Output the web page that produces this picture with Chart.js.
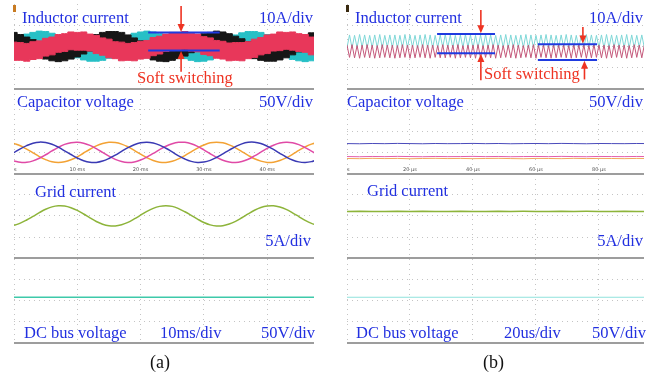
<!DOCTYPE html>
<html>
<head>
<meta charset="utf-8">
<script src="https://cdn.jsdelivr.net/npm/chart.js@4.4.1/dist/chart.umd.min.js"></script>
<style>
  body { margin: 0; background: #fff; }
  #wrap { position: relative; width: 663px; height: 380px; overflow: hidden; }
  canvas { position: absolute; top: 0; }
  .lbl { position: absolute; font-family: "Liberation Serif", "Times New Roman", serif; font-size: 16.5px; line-height: 1; color: #2230e0; white-space: nowrap; }
  .red { color: #ee3322; }
  .cap { font-size: 18px; color: #111; }
</style>
</head>
<body>
<div id="wrap">
  <canvas id="chartA" width="331" height="380" style="left:0"></canvas>
  <canvas id="chartB" width="332" height="380" style="left:331px"></canvas>

  <div class="lbl" style="left:22px;top:10px">Inductor current</div>
  <div class="lbl" style="right:350px;top:10px">10A/div</div>
  <div class="lbl red" style="left:137px;top:70px">Soft switching</div>
  <div class="lbl" style="left:17px;top:94px">Capacitor voltage</div>
  <div class="lbl" style="right:350px;top:94px">50V/div</div>
  <div class="lbl" style="left:35px;top:184px">Grid current</div>
  <div class="lbl" style="right:352px;top:233px">5A/div</div>
  <div class="lbl" style="left:24px;top:325px">DC bus voltage</div>
  <div class="lbl" style="left:160px;top:325px">10ms/div</div>
  <div class="lbl" style="right:348px;top:325px">50V/div</div>
  <div class="lbl cap" style="left:150px;top:353px">(a)</div>

  <div class="lbl" style="left:355px;top:10px">Inductor current</div>
  <div class="lbl" style="right:20px;top:10px">10A/div</div>
  <div class="lbl red" style="left:484px;top:66px">Soft switching</div>
  <div class="lbl" style="left:347px;top:94px">Capacitor voltage</div>
  <div class="lbl" style="right:20px;top:94px">50V/div</div>
  <div class="lbl" style="left:367px;top:183px">Grid current</div>
  <div class="lbl" style="right:20px;top:233px">5A/div</div>
  <div class="lbl" style="left:356px;top:325px">DC bus voltage</div>
  <div class="lbl" style="left:504px;top:325px">20us/div</div>
  <div class="lbl" style="right:17px;top:325px">50V/div</div>
  <div class="lbl cap" style="left:483px;top:353px">(b)</div>
</div>

<script>
// ---- (a) 10 ms/div, time in ms ----
const timeA = [0,1,2,3,4,5,6,7,8,9,10,11,12,13,14,15,16,17,18,19,20,21,22,23,24,25,26,27,28,29,30,31,32,33,34,35,36,37,38,39,40,41,42,43,44,45,46,47,48];

// inductor current bands (A), upper / lower edge of the ripple
const redHiA = [1.0,0.9,0.7,1.1,1.3,1.9,2.2,2.8,3.0,3.4,3.3,3.4,2.9,2.6,2.0,1.7,1.1,1.0,0.7,0.9,1.2,1.4,2.1,2.4,2.9,3.3,3.3,3.5,3.1,2.9,2.3,2.0,1.4,1.2,0.8,0.9,0.9,1.1,1.7,2.1,2.7,2.9,3.4,3.3,3.4,3.0,2.8,2.2,1.8];
const redLoA = [-3.3,-3.3,-3.5,-3.1,-2.9,-2.3,-2.0,-1.4,-1.2,-0.8,-0.9,-0.9,-1.1,-1.7,-2.1,-2.7,-2.9,-3.4,-3.3,-3.4,-3.0,-2.8,-2.2,-1.8,-1.2,-1.0,-0.9,-0.7,-1.1,-1.3,-1.9,-2.2,-2.8,-3.0,-3.4,-3.3,-3.4,-2.9,-2.6,-2.0,-1.7,-1.1,-1.0,-0.7,-0.9,-1.2,-1.4,-2.0,-2.4];
const blackHiA = [3.3,2.8,2.2,1.6,1.0,0.3,-0.1,-0.3,0.0,0.3,0.8,1.5,2.2,2.8,3.3,3.5,3.5,3.3,2.7,2.0,1.3,0.7,0.1,-0.2,-0.3,0.0,0.5,1.0,1.8,2.4,3.0,3.3,3.6,3.4,3.0,2.4,1.8,1.1,0.4,0.0,-0.3,-0.2,0.1,0.6,1.2,2.0,2.7,3.2,3.5];
const blackLoA = [0.0,-0.4,-1.0,-1.8,-2.5,-3.0,-3.4,-3.6,-3.4,-3.0,-2.5,-1.8,-1.1,-0.5,0.0,0.2,0.2,-0.1,-0.6,-1.3,-2.0,-2.7,-3.2,-3.5,-3.6,-3.3,-2.9,-2.3,-1.5,-0.9,-0.3,0.1,0.3,0.1,-0.3,-0.8,-1.5,-2.2,-2.9,-3.3,-3.5,-3.5,-3.2,-2.7,-2.0,-1.3,-0.6,-0.1,0.2];
const cyanHiA = [1.6,2.3,2.9,3.3,3.6,3.5,3.1,2.6,1.9,1.2,0.6,0.1,-0.2,-0.2,0.0,0.5,1.1,1.8,2.5,3.1,3.4,3.6,3.4,3.0,2.4,1.7,1.0,0.4,0.0,-0.3,-0.2,0.2,0.7,1.4,2.1,2.7,3.2,3.5,3.5,3.3,2.8,2.2,1.5,0.8,0.2,-0.1,-0.3,-0.1,0.3];
const cyanLoA = [-1.7,-1.0,-0.4,0.0,0.3,0.2,-0.2,-0.7,-1.4,-2.1,-2.7,-3.2,-3.5,-3.5,-3.3,-2.8,-2.2,-1.5,-0.8,-0.2,0.1,0.3,0.1,-0.3,-0.9,-1.6,-2.3,-2.9,-3.3,-3.6,-3.5,-3.2,-2.6,-1.9,-1.2,-0.6,-0.1,0.2,0.2,0.0,-0.5,-1.1,-1.8,-2.5,-3.1,-3.4,-3.6,-3.4,-3.0];

// capacitor voltages (V)
const capBlueA = [-0.4,4.1,7.9,10.7,12.0,11.5,9.5,6.1,1.8,-2.6,-6.7,-10.0,-11.8,-11.9,-10.3,-7.3,-3.4,1.2,5.5,9.0,11.3,12.0,11.0,8.5,4.8,0.4,-4.1,-7.9,-10.7,-12.0,-11.5,-9.5,-6.1,-1.8,2.6,6.7,10.0,11.8,11.9,10.3,7.3,3.4,-1.2,-5.5,-9.0,-11.3,-12.0,-11.0,-8.5];
const capPinkA = [-10.2,-11.8,-11.8,-10.1,-7.0,-2.9,1.7,5.9,9.4,11.4,12.0,10.8,8.2,4.3,-0.1,-4.6,-8.3,-10.9,-12.0,-11.4,-9.1,-5.6,-1.3,3.1,7.2,10.2,11.8,11.8,10.1,7.0,2.9,-1.7,-5.9,-9.4,-11.4,-12.0,-10.8,-8.2,-4.3,0.1,4.6,8.3,10.9,12.0,11.4,9.1,5.6,1.3,-3.1];
const capOrangeA = [10.6,7.7,3.8,-0.6,-5.0,-8.6,-11.2,-12.0,-11.2,-8.8,-5.3,-0.8,3.6,7.6,10.4,11.9,11.6,9.7,6.5,2.4,-2.2,-6.4,-9.7,-11.6,-12.0,-10.6,-7.7,-3.8,0.6,5.0,8.6,11.2,12.0,11.2,8.8,5.3,0.8,-3.6,-7.6,-10.4,-11.9,-11.6,-9.7,-6.5,-2.4,2.2,6.4,9.7,11.6];

// grid current (A)
const gridA = [-1.12,-0.86,-0.49,-0.06,0.38,0.78,1.06,1.19,1.16,0.96,0.64,0.22,-0.24,-0.66,-0.98,-1.16,-1.19,-1.04,-0.76,-0.36,0.08,0.53,0.89,1.12,1.20,1.12,0.86,0.49,0.06,-0.38,-0.78,-1.06,-1.19,-1.16,-0.96,-0.64,-0.22,0.24,0.66,0.98,1.16,1.19,1.04,0.76,0.36,-0.08,-0.53,-0.89,-1.12];

// dc bus (V)
const dcTimeA = [0, 48];
const dcA = [54, 54];

const tickPosA = [0, 10, 20, 30, 40];
const tickLabA = ["s", "10 ms", "20 ms", "30 ms", "40 ms"];

// ---- (b) 20 us/div, time in us ----
const halfPeriodB = 0.8; // sample spacing of the triangle peaks
const cyanTriB = [
  -0.3,2.7,-0.4,2.6,-0.3,2.8,-0.2,2.7,-0.4,2.6,
  -0.3,2.7,-0.3,2.8,-0.4,2.6,-0.2,2.7,-0.3,2.7,
  -0.4,2.6,-0.3,2.8,-0.3,2.7,-0.2,2.6,-0.4,2.7,
  -0.3,2.8,-0.3,2.7,-0.4,2.6,-0.3,2.7,-0.2,2.8,
  -0.3,2.7,-0.4,2.6,-0.3,2.7,-0.3,2.8,-0.2,2.7,
  -0.4,2.6,-0.3,2.7,-0.3,2.8,-0.4,2.7,-0.2,2.6,
  -0.3,2.7,-0.3,2.8,-0.4,2.7,-0.3,2.6,-0.2,2.7,
  -0.3,2.8,-0.4,2.7,-0.3,2.6,-0.3,2.7,-0.2,2.8,
  -0.4,2.7,-0.3,2.6,-0.3,2.7,-0.2,2.8,-0.4,2.7,
  -0.3,2.6,-0.3,2.7,-0.4,2.8,-0.2,2.7,-0.3,2.6,
  -0.3,2.7,-0.4,2.8,-0.3,2.7,-0.2,2.6,-0.3,2.7,
  -0.3,2.8,-0.4,2.7,-0.3,2.6,-0.2,2.7,-0.3];
const redTriB = [
  0.3,-2.6,0.4,-2.7,0.2,-2.8,0.3,-2.6,0.4,-2.7,
  0.3,-2.8,0.2,-2.7,0.4,-2.6,0.3,-2.7,0.3,-2.8,
  0.2,-2.7,0.4,-2.6,0.3,-2.8,0.3,-2.7,0.2,-2.6,
  0.4,-2.7,0.3,-2.8,0.3,-2.6,0.2,-2.7,0.4,-2.7,
  0.3,-2.6,0.3,-2.8,0.4,-2.7,0.2,-2.6,0.3,-2.7,
  0.3,-2.8,0.4,-2.7,0.2,-2.6,0.3,-2.7,0.4,-2.8,
  0.3,-2.7,0.2,-2.6,0.3,-2.7,0.4,-2.8,0.3,-2.7,
  0.2,-2.6,0.3,-2.7,0.4,-2.8,0.3,-2.6,0.3,-2.7,
  0.2,-2.8,0.4,-2.7,0.3,-2.6,0.3,-2.7,0.2,-2.8,
  0.4,-2.7,0.3,-2.6,0.3,-2.8,0.2,-2.7,0.4,-2.6,
  0.3,-2.7,0.3,-2.8,0.2,-2.7,0.4,-2.6,0.3,-2.7,
  0.3,-2.8,0.2,-2.7,0.4,-2.6,0.3,-2.7,0.3];

const timeFlatB = [0,4,8,12,16,20,24,28,32,36,40,44,48,52,56,60,64,68,72,76,80,84,88,92,96];
const capBlueB = [10.3,10.1,10.4,10.2,10.5,10.3,10.1,10.4,10.2,10.3,10.5,10.2,10.4,10.1,10.3,10.4,10.2,10.5,10.3,10.1,10.4,10.3,10.2,10.4,10.3];
const capPinkB = [-5.0,-5.2,-4.9,-5.1,-4.8,-5.0,-5.2,-4.9,-5.1,-5.0,-4.8,-5.1,-4.9,-5.2,-5.0,-4.9,-5.1,-4.8,-5.0,-5.2,-4.9,-5.0,-5.1,-4.9,-5.0];
const capOrangeB = [-7.3,-7.5,-7.1,-7.4,-7.2,-7.6,-7.3,-7.1,-7.4,-7.2,-7.5,-7.3,-7.1,-7.4,-7.6,-7.2,-7.3,-7.5,-7.1,-7.4,-7.2,-7.3,-7.5,-7.2,-7.3];
const gridB = [0.52,0.55,0.52,0.53,0.55,0.52,0.54,0.52,0.53,0.55,0.52,0.53,0.55,0.52,0.54,0.53,0.52,0.55,0.53,0.54,0.52,0.53,0.55,0.52,0.53];
const dcTimeB = [0, 96];
const dcB = [54, 54];

const tickPosB = [0, 20, 40, 60, 80];
const tickLabB = ["s", "20 \u00b5s", "40 \u00b5s", "60 \u00b5s", "80 \u00b5s"];

// soft switching markers: blue bars [x0, x1, y] and red arrows [x, yFrom, yTo] (inductor axis)
const barsA = [[21.2, 32.5, 3.3], [21.2, 32.5, -1.0]];
const arrowsA = [[26.4, 9.5, 3.4], [26.4, -6.0, -1.1]];
const barsB = [[28.6, 47.0, 2.9], [28.6, 47.0, -1.6], [60.6, 79.4, 0.5], [60.6, 79.4, -3.2]];
const arrowsB = [[42.5, 8.6, 3.1], [42.5, -8.0, -1.8], [74.9, 4.6, 0.7], [75.4, -7.8, -3.4]];

function pts(xs, ys) {
  return ys.map((v, i) => ({ x: xs[i], y: v }));
}

function trace(xs, ys, axis, color, extra) {
  return Object.assign({
    data: pts(xs, ys), yAxisID: axis, borderColor: color, backgroundColor: color,
    borderWidth: 1.5, pointRadius: 0, tension: 0.4, fill: false
  }, extra || {});
}

const dotColor = (c) => (c.index === 0 || c.index === c.scale.ticks.length - 1) ? "rgba(0,0,0,0)" : "#c4c4c4";

function yAxis(min, max, step, weight) {
  return {
    type: "linear", position: "left", stack: "scope", stackWeight: 1, weight,
    min, max, ticks: { display: false, stepSize: step },
    grid: { color: dotColor, drawTicks: false },
    border: { display: false, dash: [1, 4] }
  };
}

function scales(xMax, xStep) {
  return {
    x: {
      type: "linear", min: 0, max: xMax,
      ticks: { display: false, stepSize: xStep },
      grid: { color: (c) => c.index === c.scale.ticks.length - 1 ? "rgba(0,0,0,0)" : "#c4c4c4", drawTicks: false },
      border: { display: false, dash: [1, 4] }
    },
    yI: yAxis(-10, 10, 5, 4),
    yC: yAxis(-25, 75, 25, 3),
    yG: yAxis(-5, 5, 2.5, 2),
    yD: yAxis(0, 100, 25, 1)
  };
}

const scopePlugin = {
  id: "scope",
  afterDatasetsDraw(chart, args, o) {
    const ctx = chart.ctx;
    const x = chart.scales.x;
    const yI = chart.scales.yI;
    const yC = chart.scales.yC;
    ctx.save();
    // panel separators
    ctx.strokeStyle = "#9d9d9d";
    ctx.lineWidth = 2;
    ["yI", "yC", "yG", "yD"].forEach((id) => {
      const b = Math.round(chart.scales[id].bottom);
      ctx.beginPath();
      ctx.moveTo(x.left, b);
      ctx.lineTo(x.right, b);
      ctx.stroke();
    });
    // time labels on the capacitor panel
    ctx.fillStyle = "#555";
    ctx.font = "5px 'DejaVu Sans', sans-serif";
    ctx.textBaseline = "alphabetic";
    o.tickPos.forEach((t, i) => {
      ctx.textAlign = i === 0 ? "left" : "center";
      ctx.fillText(o.tickLab[i], x.getPixelForValue(t), yC.bottom - 3);
    });
    // channel marker
    ctx.fillStyle = o.markColor;
    ctx.fillRect(x.left - 1, yI.top + 1, 3, 7);
    // blue bars
    ctx.strokeStyle = "#1f3be0";
    ctx.lineWidth = 2;
    o.bars.forEach(([x0, x1, v]) => {
      const py = yI.getPixelForValue(v);
      ctx.beginPath();
      ctx.moveTo(x.getPixelForValue(x0), py);
      ctx.lineTo(x.getPixelForValue(x1), py);
      ctx.stroke();
    });
    // red arrows
    ctx.strokeStyle = "#ee3322";
    ctx.fillStyle = "#ee3322";
    ctx.lineWidth = 1.6;
    o.arrows.forEach(([t, v0, v1]) => {
      const px = x.getPixelForValue(t);
      const p0 = yI.getPixelForValue(v0);
      const p1 = yI.getPixelForValue(v1);
      const dir = p1 > p0 ? 1 : -1;
      ctx.beginPath();
      ctx.moveTo(px, p0);
      ctx.lineTo(px, p1 - dir * 6);
      ctx.stroke();
      ctx.beginPath();
      ctx.moveTo(px, p1);
      ctx.lineTo(px - 3.5, p1 - dir * 8);
      ctx.lineTo(px + 3.5, p1 - dir * 8);
      ctx.closePath();
      ctx.fill();
    });
    ctx.restore();
  }
};

function baseOptions(xMax, xStep, padLeft, padRight, plug) {
  return {
    responsive: false,
    animation: false,
    events: [],
    layout: { padding: { left: padLeft, right: padRight, top: 4, bottom: 37 } },
    scales: scales(xMax, xStep),
    plugins: { legend: { display: false }, tooltip: { enabled: false }, scope: plug }
  };
}

const band = { stepped: "middle", borderWidth: 1 };

new Chart(document.getElementById("chartA"), {
  type: "line",
  data: {
    datasets: [
      trace(timeA, redHiA, "yI", "#e8375a", Object.assign({ fill: "+1" }, band)),
      trace(timeA, redLoA, "yI", "#e8375a", band),
      trace(timeA, blackHiA, "yI", "#161616", Object.assign({ fill: "+1" }, band)),
      trace(timeA, blackLoA, "yI", "#161616", band),
      trace(timeA, cyanHiA, "yI", "#27c0c6", Object.assign({ fill: "+1" }, band)),
      trace(timeA, cyanLoA, "yI", "#27c0c6", band),
      trace(timeA, capBlueA, "yC", "#3a3ab4"),
      trace(timeA, capPinkA, "yC", "#e04aa6"),
      trace(timeA, capOrangeA, "yC", "#f3a234"),
      trace(timeA, gridA, "yG", "#8db43a"),
      trace(dcTimeA, dcA, "yD", "#3ec9aa")
    ]
  },
  options: baseOptions(47.4, 10, 14, 17, { tickPos: tickPosA, tickLab: tickLabA, bars: barsA, arrows: arrowsA, markColor: "#c87b22" }),
  plugins: [scopePlugin]
});

const timeTriB = cyanTriB.map((_, i) => i * halfPeriodB);

new Chart(document.getElementById("chartB"), {
  type: "line",
  data: {
    datasets: [
      trace(timeTriB, redTriB, "yI", "#c4587a", { tension: 0, borderWidth: 1 }),
      trace(timeTriB, cyanTriB, "yI", "#7fd7d7", { tension: 0, borderWidth: 1 }),
      trace(timeFlatB, capBlueB, "yC", "#4b4bbb", { tension: 0, borderWidth: 1 }),
      trace(timeFlatB, capPinkB, "yC", "#e35fae", { tension: 0, borderWidth: 1 }),
      trace(timeFlatB, capOrangeB, "yC", "#f2a95c", { tension: 0, borderWidth: 1 }),
      trace(timeFlatB, gridB, "yG", "#8db43a", { tension: 0, borderWidth: 1.5 }),
      trace(dcTimeB, dcB, "yD", "#8fe2dc", { borderWidth: 1.2 })
    ]
  },
  options: baseOptions(94.3, 20, 16, 19, { tickPos: tickPosB, tickLab: tickLabB, bars: barsB, arrows: arrowsB, markColor: "#3a2a10" }),
  plugins: [scopePlugin]
});
</script>
</body>
</html>
